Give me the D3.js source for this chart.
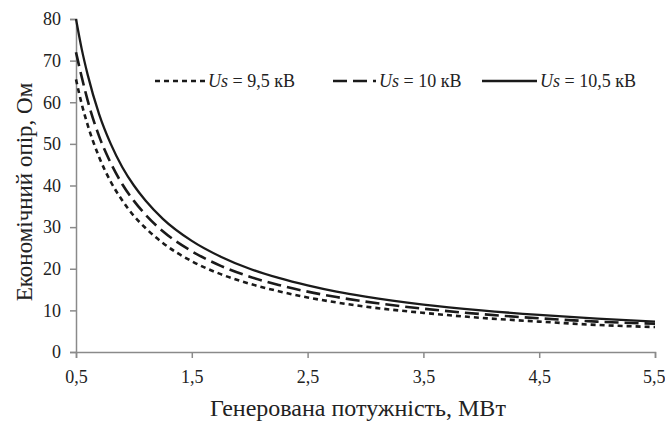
<!DOCTYPE html>
<html>
<head>
<meta charset="utf-8">
<script src="https://cdn.jsdelivr.net/npm/d3@7"></script>
<style>
  body { margin: 0; background: #fff; }
  text { font-family: 'Liberation Serif', 'Times New Roman', serif; fill: #222; }
</style>
</head>
<body>
<svg width="665" height="426"></svg>
<script>
// Генерована потужність, МВт
const power = [0.5, 0.55, 0.6, 0.7, 0.8, 0.9, 1.0, 1.1, 1.25, 1.5, 1.75, 2.0, 2.25, 2.5, 2.75, 3.0, 3.5, 4.0, 4.5, 5.0, 5.5]
// Економічний опір, Ом
const r95 = [65.5, 59.5, 54.6, 46.8, 40.9, 36.4, 32.7, 29.8, 26.2, 21.8, 18.7, 16.4, 14.6, 13.1, 11.9, 10.9, 9.4, 8.2, 7.3, 6.5, 6.0]
const r10 = [72.0, 66.0, 60.5, 51.8, 45.4, 40.3, 36.3, 33.0, 29.0, 24.2, 20.7, 18.1, 16.1, 14.5, 13.2, 12.1, 10.4, 9.1, 8.1, 7.3, 6.8]
const r105 = [80, 72.7, 66.7, 57.1, 50.0, 44.4, 40.0, 36.4, 32.0, 26.7, 22.9, 20.0, 17.8, 16.0, 14.5, 13.3, 11.4, 10.0, 8.9, 8.0, 7.3]
const xTicks = [0.5, 1.5, 2.5, 3.5, 4.5, 5.5]
const yTicks = [0, 10, 20, 30, 40, 50, 60, 70, 80]

const series = [
  { u: '9,5', values: r95, dash: '5,4', width: 2.6 },
  { u: '10', values: r10, dash: '14,6', width: 2.6 },
  { u: '10,5', values: r105, dash: null, width: 2.3 }
]

let svg = d3.select('svg')
let x = d3.scaleLinear().domain([0.5, 5.5]).range([76, 655])
let y = d3.scaleLinear().domain([0, 80]).range([352, 19])

let axisColor = '#8a8a8a'

let xAxis = svg.append('g')
  .attr('transform', 'translate(0,' + y(0) + ')')
  .call(d3.axisBottom(x).tickValues(xTicks).tickSize(6).tickPadding(12)
    .tickFormat(d => String(d).replace('.', ',')))
let yAxis = svg.append('g')
  .attr('transform', 'translate(' + x(0.5) + ',0)')
  .call(d3.axisLeft(y).tickValues(yTicks).tickSize(6).tickPadding(9))

;[xAxis, yAxis].forEach(function (a) {
  a.select('.domain').attr('stroke', axisColor).attr('stroke-width', 1.5)
  a.selectAll('.tick line').attr('stroke', axisColor).attr('stroke-width', 1.5)
  a.selectAll('.tick text').style('font-size', '18px').attr('fill', '#222')
    .style('font-family', "'Liberation Serif', serif")
})
// keep the last label inside the picture
xAxis.selectAll('.tick text').filter(d => d === 5.5).attr('text-anchor', 'end').attr('x', 10)

let line = d3.line()
  .x(function (d, i) { return x(power[i]) })
  .y(function (d) { return y(d) })
  .curve(d3.curveMonotoneX)

series.forEach(function (s) {
  svg.append('path')
    .attr('d', line(s.values))
    .attr('fill', 'none')
    .attr('stroke', '#1a1a1a')
    .attr('stroke-width', s.width)
    .attr('stroke-dasharray', s.dash)
})

// legend
let legendLine = [[155, 205], [333, 376], [482, 537]]
series.forEach(function (s, i) {
  let g = svg.append('g').attr('transform', 'translate(0,81)')
  g.append('line')
    .attr('x1', legendLine[i][0]).attr('x2', legendLine[i][1])
    .attr('stroke', '#1a1a1a')
    .attr('stroke-width', s.width)
    .attr('stroke-dasharray', s.dash)
  let t = g.append('text')
    .attr('x', legendLine[i][1] + 3).attr('y', 6)
    .style('font-size', '18px')
  t.append('tspan').style('font-style', 'italic').text('Us')
  t.append('tspan').text(' = ' + s.u + ' кВ')
})

svg.append('text')
  .attr('transform', 'translate(32,192) rotate(-90)')
  .attr('text-anchor', 'middle')
  .style('font-size', '23px')
  .text('Економічний опір, Ом')

svg.append('text')
  .attr('x', 358).attr('y', 416)
  .attr('text-anchor', 'middle')
  .style('font-size', '24px')
  .text('Генерована потужність, МВт')
</script>
</body>
</html>
